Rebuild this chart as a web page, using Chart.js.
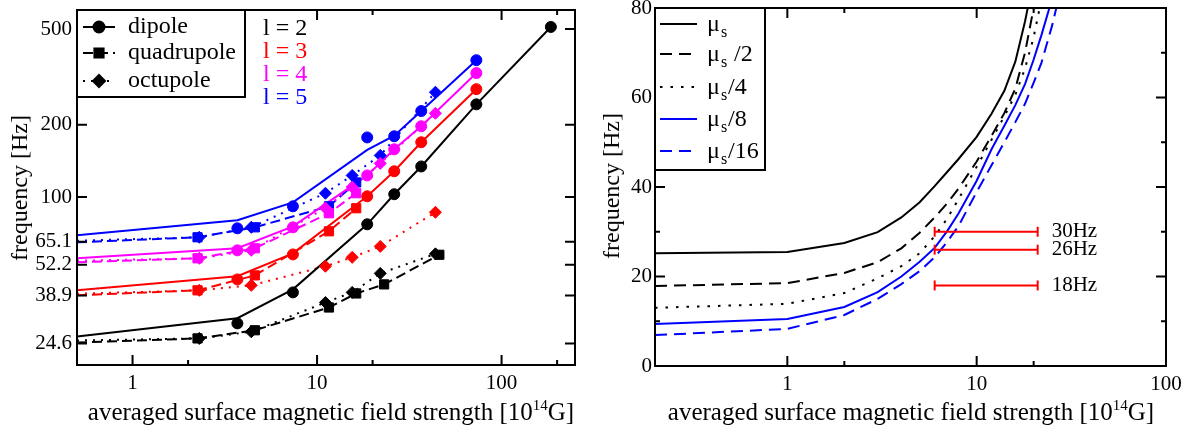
<!DOCTYPE html>
<html>
<head>
<meta charset="utf-8">
<title>Oscillation frequencies vs surface field</title>
<script src="https://cdn.jsdelivr.net/npm/chart.js@4.4.1/dist/chart.umd.min.js"></script>
<style>
  body { margin: 0; background: #fff; width: 1190px; height: 432px; position: relative; overflow: hidden;
    font-family: 'Liberation Serif', 'Times New Roman', serif; color: #000; }
  canvas { position: absolute; top: 0; }
  #modes { left: 0; }
  #shear { left: 590px; }
  .title { position: absolute; font-size: 24px; line-height: 24px; white-space: nowrap; }
  .title sup { font-size: 15px; position: relative; top: -10px; vertical-align: baseline; }
  .xtitle { transform: translateX(-50%); top: 400px; font-size: 25px; }
  .ytitle { transform: translate(-50%, -50%) rotate(-90deg); }
</style>
</head>
<body>
<canvas id="modes" width="590" height="432"></canvas>
<canvas id="shear" width="600" height="432"></canvas>
<div class="title xtitle" style="left:331px">averaged surface magnetic field strength [10<sup>14</sup>G]</div>
<div class="title xtitle" style="left:911px">averaged surface magnetic field strength [10<sup>14</sup>G]</div>
<div class="title ytitle" style="left:19px;top:188px">frequency [Hz]</div>
<div class="title ytitle" style="left:611px;top:186px">frequency [Hz]</div>
<script>
// ----- DATA (left): mode frequencies [Hz] vs field [10^14 G] -----
const bDipole = [3.7, 7.4, 18.7, 26.2, 36.7, 73, 185]
const bQuadrupole = [2.25, 4.6, 11.6, 16.3, 23.1, 46]
const bOctupole = [2.3, 4.4, 11.1, 15.5, 22, 43.8]

// simulated points, one list per l
const dipoleL2 = [29.8, 40.1, 77, 102.7, 134, 243, 510]
const dipoleL3 = [45.4, 57.7, 100.7, 128, 169, 281]
const dipoleL4 = [60, 74.8, 123, 158, 197, 328]
const dipoleL5 = [74.1, 91.5, 177, 179, 228, 371]

const quadrupoleL2 = [25.8, 27.9, 34.7, 39.7, 43.3, 57.5]
const quadrupoleL3 = [40.9, 47.2, 72, 89.8]
const quadrupoleL4 = [55.6, 61.2, 85.6, 103.7]
const quadrupoleL5 = [68, 74.8, 91.5, 115]

const octupoleL2 = [25.8, 27.5, 36.4, 40.1, 48.1, 58]
const octupoleL3 = [40.9, 42.9, 51.5, 56.1, 62.3, 86.4]
const octupoleL4 = [55.6, 60, 90, 110, 138, 223]
const octupoleL5 = [68, 74.8, 103.7, 123, 149, 273]

// model curves: field 0.5 first, then the simulated fields
const bStart = 0.5
const dipoleFitL2 = [26.3, 31.3, 41.3, 77, 102.7, 134, 243, 510]
const dipoleFitL3 = [40.9, 46.8, 58.3, 100.7, 128, 169, 281]
const dipoleFitL4 = [55.6, 61.2, 75.5, 123, 158, 197, 328]
const dipoleFitL5 = [69.3, 80, 95, 157, 180, 228, 371]
const quadrupoleStart = [24.8, 39, 53.5, 64.8]
const octupoleStart = [25.3, 39.6, 54.3, 65.8]

const freqTicks = [24.6, 38.9, 52.2, 65.1, 100, 200, 500]
const fieldTicks = [1, 10, 100]
const fieldMinor = [2, 20, 200]
const harmonics = ['l = 2', 'l = 3', 'l = 4', 'l = 5']

// ----- DATA (right): fundamental frequency for reduced shear modulus -----
const bGrid = [0.2, 1, 2, 3, 4, 5, 6, 7, 8, 10, 12, 14, 16, 18, 20, 22, 25, 30]
const freqMuS = [25.2, 25.5, 27.5, 29.9, 33.2, 36.6, 40.2, 43.4, 46.2, 51.2, 56.4, 61.5, 68, 77, 86.5, 96, 112, 135]
const freqMuS2 = [17.9, 18.5, 20.8, 23.2, 26.3, 29.8, 33.2, 36.4, 39.6, 45.7, 51.5, 56.5, 62, 70, 80, 91, 107, 130]
const freqMuS4 = [13, 13.9, 16.3, 19.6, 22.3, 25.2, 29, 33, 37.2, 44.5, 50.6, 55.8, 60.6, 66.5, 73.5, 82, 94, 115]
const freqMuS8 = [9.4, 10.5, 13.2, 16.5, 20, 23.3, 26.4, 30.2, 34, 41.4, 48.5, 53.7, 58.3, 63, 68.5, 74, 82, 98]
const freqMuS16 = [6.9, 8.3, 11.4, 15, 18.3, 21.2, 24.3, 27.8, 31.2, 38.9, 44.9, 50, 54.5, 58.6, 63.3, 67.8, 76, 90]

// observed QPO frequencies and the field range they were compared over
const qpoFreqs = [30, 26, 18]
const qpoField = [6, 21]

const shearTicks = [0, 20, 40, 60, 80]
const shearMinor = [10, 30, 50, 70]
const fieldTicksR = [1, 10, 100]
const fieldMinorR = [2, 20]

// ----- STYLE -----
const FONT = "'Liberation Serif', 'Times New Roman', serif"
Chart.defaults.font.family = FONT
Chart.defaults.font.size = 21
Chart.defaults.color = '#000'

const lColors = ['#000000', '#ff0000', '#ff00ff', '#0000ff']
const families = {
  dipole: { style: 'circle', radius: 5.5, dash: [] },
  quadrupole: { style: 'rect', radius: 6.5, dash: [10, 5] },
  octupole: { style: 'rectRot', radius: 6, dash: [2, 6] },
}

function pts(xs, ys) {
  return ys.map((y, i) => ({ x: xs[i], y }))
}

function curve(xs, ys, color, dash) {
  return {
    data: pts(xs, ys),
    showLine: true,
    borderColor: color,
    borderWidth: 2,
    borderDash: dash,
    pointRadius: 0,
  }
}

function markers(xs, ys, color, fam) {
  return {
    data: pts(xs, ys),
    showLine: false,
    pointStyle: fam.style,
    pointRadius: fam.radius,
    backgroundColor: color,
    borderColor: color,
    pointBorderWidth: 1,
  }
}

// ----- LEFT DATASETS -----
const dipoleSim = [dipoleL2, dipoleL3, dipoleL4, dipoleL5]
const dipoleFit = [dipoleFitL2, dipoleFitL3, dipoleFitL4, dipoleFitL5]
const quadSim = [quadrupoleL2, quadrupoleL3, quadrupoleL4, quadrupoleL5]
const octSim = [octupoleL2, octupoleL3, octupoleL4, octupoleL5]

const modeCurves = []
const modePoints = []
lColors.forEach((c, i) => {
  modeCurves.push(curve([bStart, ...bDipole], dipoleFit[i], c, families.dipole.dash))
  modeCurves.push(curve([bStart, ...bQuadrupole], [quadrupoleStart[i], ...quadSim[i]], c, families.quadrupole.dash))
  modeCurves.push(curve([bStart, ...bOctupole], [octupoleStart[i], ...octSim[i]], c, families.octupole.dash))
  modePoints.push(markers(bDipole, dipoleSim[i], c, families.dipole))
  modePoints.push(markers(bQuadrupole, quadSim[i], c, families.quadrupole))
  modePoints.push(markers(bOctupole, octSim[i], c, families.octupole))
})

// ----- PLUGINS -----
// closed frame with inward ticks on all four sides
const frame = {
  id: 'frame',
  afterDatasetsDraw(chart, args, opts) {
    const { ctx, chartArea: a, scales } = chart
    ctx.save()
    ctx.strokeStyle = '#000'
    ctx.lineWidth = 2
    const mark = (axis, v, len) => {
      const p = scales[axis].getPixelForValue(v)
      ctx.beginPath()
      if (axis === 'x') {
        ctx.moveTo(p, a.bottom); ctx.lineTo(p, a.bottom - len)
        ctx.moveTo(p, a.top); ctx.lineTo(p, a.top + len)
      } else {
        ctx.moveTo(a.left, p); ctx.lineTo(a.left + len, p)
        ctx.moveTo(a.right, p); ctx.lineTo(a.right - len, p)
      }
      ctx.stroke()
    }
    opts.xMajor.forEach((v) => mark('x', v, 10))
    opts.xMinor.forEach((v) => mark('x', v, 5))
    opts.yMajor.forEach((v) => mark('y', v, 10))
    opts.yMinor.forEach((v) => mark('y', v, 5))
    ctx.strokeRect(a.left, a.top, a.right - a.left, a.bottom - a.top)
    ctx.restore()
  },
}

function sample(ctx, x0, x1, y, color, dash, pointStyle, radius) {
  ctx.save()
  ctx.strokeStyle = color
  ctx.lineWidth = 2
  ctx.setLineDash(dash)
  ctx.beginPath()
  ctx.moveTo(x0, y)
  ctx.lineTo(x1, y)
  ctx.stroke()
  ctx.restore()
  if (pointStyle) {
    ctx.save()
    ctx.fillStyle = color
    ctx.strokeStyle = color
    Chart.helpers.drawPoint(ctx, { pointStyle, radius, borderWidth: 1, rotation: 0 }, (x0 + x1) / 2, y)
    ctx.restore()
  }
}

const modesLegend = {
  id: 'modesLegend',
  afterDraw(chart) {
    const { ctx, chartArea: a } = chart
    ctx.save()
    ctx.fillStyle = '#fff'
    ctx.fillRect(a.left, a.top, 168, 87)
    ctx.strokeStyle = '#000'
    ctx.lineWidth = 2
    ctx.strokeRect(a.left, a.top, 168, 87)
    const rows = [['dipole', 'dipole', 17], ['quadrupole', 'quadrupole', 43], ['octupole', 'octupole', 71]]
    rows.forEach(([name, fam, dy]) => {
      const f = families[fam]
      sample(ctx, a.left + 6, a.left + 38, a.top + dy, '#000', f.dash, f.style, f.radius)
      ctx.fillStyle = '#000'
      ctx.font = '24px ' + FONT
      ctx.textBaseline = 'alphabetic'
      ctx.fillText(name, a.left + 51, a.top + dy + 6)
    })
    harmonics.forEach((t, i) => {
      ctx.fillStyle = lColors[i]
      ctx.fillText(t, a.left + 186, a.top + 25 + i * 23)
    })
    ctx.restore()
  },
}

const shearStyles = [
  { label: '/', color: '#000', dash: [] },
  { label: ' /2', color: '#000', dash: [12, 7] },
  { label: '/4', color: '#000', dash: [2.5, 8] },
  { label: '/8', color: '#0000ff', dash: [] },
  { label: '/16', color: '#0000ff', dash: [12, 7] },
]

const shearLegend = {
  id: 'shearLegend',
  afterDraw(chart) {
    const { ctx, chartArea: a } = chart
    const rowsY = [16, 46, 79, 111, 143]
    ctx.save()
    ctx.fillStyle = '#fff'
    ctx.fillRect(a.left, a.top, 110, 162)
    ctx.strokeStyle = '#000'
    ctx.lineWidth = 2
    ctx.strokeRect(a.left, a.top, 110, 162)
    shearStyles.forEach((s, i) => {
      const y = a.top + rowsY[i]
      sample(ctx, a.left + 5, a.left + 42, y, s.color, s.dash)
      ctx.fillStyle = '#000'
      ctx.textBaseline = 'alphabetic'
      ctx.font = '24px ' + FONT
      ctx.fillText('\u03bc', a.left + 52, y + 7)
      ctx.font = '16px ' + FONT
      ctx.fillText('s', a.left + 66, y + 13)
      if (i > 0) {
        ctx.font = '24px ' + FONT
        ctx.fillText(s.label, a.left + 73, y + 7)
      }
    })
    ctx.restore()
  },
}

// labels next to the QPO bars
const qpoLabels = {
  id: 'qpoLabels',
  afterDatasetsDraw(chart) {
    const { ctx, scales: { x, y } } = chart
    ctx.save()
    ctx.fillStyle = '#000'
    ctx.font = '21px ' + FONT
    ctx.textBaseline = 'middle'
    qpoFreqs.forEach((f) => {
      ctx.fillText(f + 'Hz', x.getPixelForValue(qpoField[1]) + 14, y.getPixelForValue(f))
    })
    ctx.restore()
  },
}

// ----- SCALES -----
function fixedTicks(values) {
  return (s) => { s.ticks = values.map((v) => ({ value: v })) }
}

function axis(opts) {
  return Object.assign({
    grid: { display: false, drawTicks: false },
    border: { display: false },
  }, opts)
}

// ----- LEFT CHART -----
new Chart(document.getElementById('modes'), {
  type: 'scatter',
  data: { datasets: [...modePoints, ...modeCurves] },
  options: {
    responsive: false,
    animation: false,
    events: [],
    layout: { padding: { top: 10, right: 15, left: 0, bottom: 0 } },
    plugins: {
      legend: { display: false },
      tooltip: { enabled: false },
      frame: { xMajor: fieldTicks, xMinor: fieldMinor, yMajor: freqTicks, yMinor: [] },
    },
    scales: {
      x: axis({
        type: 'logarithmic', min: 0.5, max: 250,
        ticks: { autoSkip: false, maxRotation: 0, padding: 6, callback: (v) => String(v) },
        afterBuildTicks: fixedTicks(fieldTicks),
        afterFit: (s) => { s.height = 67; s.paddingLeft = 0; s.paddingRight = 0 },
      }),
      y: axis({
        type: 'logarithmic', min: 20, max: 600,
        ticks: { autoSkip: false, padding: 5, callback: (v) => String(v) },
        afterBuildTicks: fixedTicks(freqTicks),
        afterFit: (s) => { s.width = 77; s.paddingTop = 0; s.paddingBottom = 0 },
      }),
    },
  },
  plugins: [frame, modesLegend],
})

// ----- RIGHT DATASETS -----
const shearSeries = [freqMuS, freqMuS2, freqMuS4, freqMuS8, freqMuS16]
const shearDatasets = shearSeries.map((ys, i) => curve(bGrid, ys, shearStyles[i].color, shearStyles[i].dash))
const qpoDatasets = qpoFreqs.map((f) => ({
  data: pts(qpoField, [f, f]),
  showLine: true,
  borderColor: '#ff0000',
  borderWidth: 2,
  pointStyle: 'line',
  pointRotation: 90,
  pointRadius: 5,
  pointBorderColor: '#ff0000',
  pointBorderWidth: 2,
}))

// ----- RIGHT CHART -----
new Chart(document.getElementById('shear'), {
  type: 'scatter',
  data: { datasets: [...qpoDatasets, ...shearDatasets] },
  options: {
    responsive: false,
    animation: false,
    events: [],
    layout: { padding: { top: 8, right: 24, left: 0, bottom: 0 } },
    plugins: {
      legend: { display: false },
      tooltip: { enabled: false },
      frame: { xMajor: fieldTicksR, xMinor: fieldMinorR, yMajor: shearTicks, yMinor: shearMinor },
    },
    scales: {
      x: axis({
        type: 'logarithmic', min: 0.2, max: 100,
        ticks: { autoSkip: false, maxRotation: 0, padding: 6, callback: (v) => String(v) },
        afterBuildTicks: fixedTicks(fieldTicksR),
        afterFit: (s) => { s.height = 66; s.paddingLeft = 0; s.paddingRight = 0 },
      }),
      y: axis({
        type: 'linear', min: 0, max: 80,
        ticks: { autoSkip: false, padding: 3, stepSize: 20 },
        afterBuildTicks: fixedTicks(shearTicks),
        afterFit: (s) => { s.width = 65; s.paddingTop = 0; s.paddingBottom = 0 },
      }),
    },
  },
  plugins: [frame, shearLegend, qpoLabels],
})
</script>
</body>
</html>
